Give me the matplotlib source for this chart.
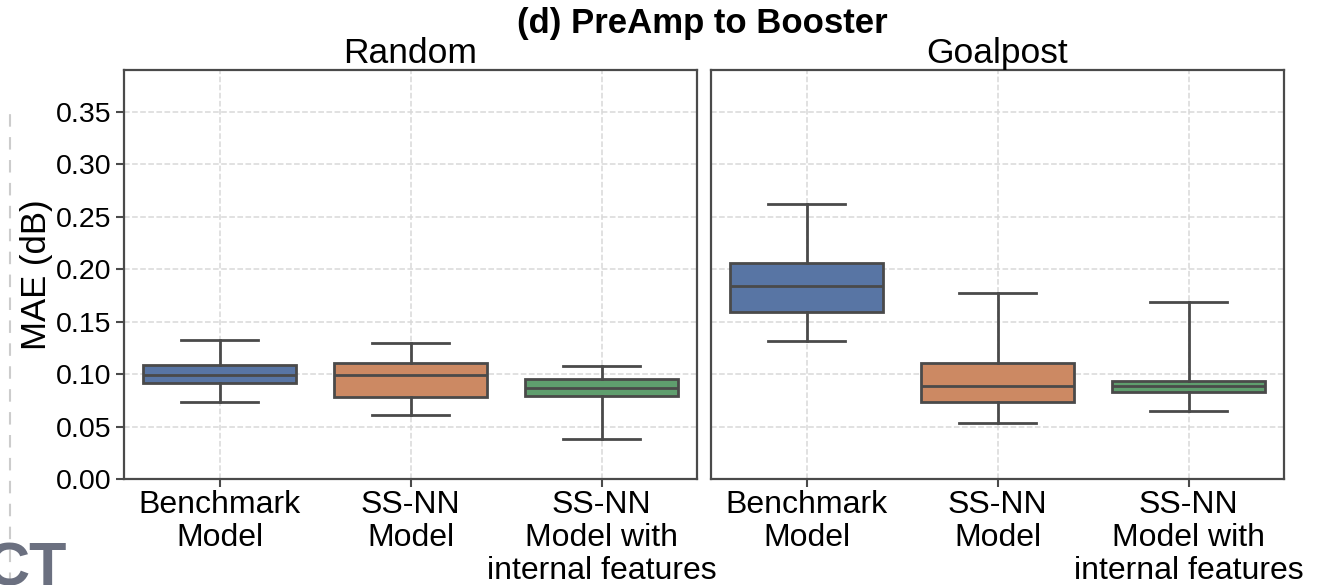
import matplotlib
matplotlib.use("Agg")
import matplotlib.pyplot as plt
from matplotlib.lines import Line2D

# box statistics (MAE in dB)
categories = ["Benchmark\nModel", "SS-NN\nModel", "SS-NN\nModel with\ninternal features"]
panels = ["Random", "Goalpost"]

random_whislo = [0.0737, 0.0613, 0.0380]
random_q1 = [0.0913, 0.0785, 0.0795]
random_med = [0.0992, 0.0995, 0.0868]
random_q3 = [0.1087, 0.1110, 0.0954]
random_whishi = [0.1326, 0.1297, 0.1080]

goal_whislo = [0.1313, 0.0537, 0.0648]
goal_q1 = [0.1590, 0.0731, 0.0830]
goal_med = [0.1840, 0.0887, 0.0887]
goal_q3 = [0.2063, 0.1103, 0.0938]
goal_whishi = [0.2620, 0.1771, 0.1688]

colors = ["#5875A4", "#CC8963", "#5F9E6E"]
line_col = "#4a4a4a"

plt.rcParams["font.family"] = ["Liberation Sans", "DejaVu Sans"]


def make_stats(lo, q1, med, q3, hi):
    return [dict(whislo=a, q1=b, med=c, q3=d, whishi=e, fliers=[])
            for a, b, c, d, e in zip(lo, q1, med, q3, hi)]


fig = plt.figure(figsize=(13.19, 5.85), dpi=100)
W, H = 1319, 585
ax_l = fig.add_axes([124 / W, 1 - 479 / H, 573 / W, 409 / H])
ax_r = fig.add_axes([711 / W, 1 - 479 / H, 573 / W, 409 / H], sharey=ax_l)

panel_stats = [
    make_stats(random_whislo, random_q1, random_med, random_q3, random_whishi),
    make_stats(goal_whislo, goal_q1, goal_med, goal_q3, goal_whishi),
]

for ax, stats, name in zip([ax_l, ax_r], panel_stats, panels):
    ax.set_axisbelow(True)
    ax.grid(True, linestyle="--", color="#d9d9d9", linewidth=1.1)
    bp = ax.bxp(stats, positions=range(len(categories)), widths=0.8,
                patch_artist=True, showfliers=False,
                boxprops=dict(edgecolor=line_col, linewidth=2),
                medianprops=dict(color=line_col, linewidth=2),
                whiskerprops=dict(color=line_col, linewidth=2),
                capprops=dict(color=line_col, linewidth=2), capwidths=0.4)
    for patch, c in zip(bp["boxes"], colors):
        patch.set_facecolor(c)
    ax.set_xlim(-0.5, len(categories) - 0.5)
    ax.set_xticks(range(len(categories)))
    ax.set_xticklabels(categories, fontsize=23, linespacing=1.12)
    ax.tick_params(axis="x", length=6, width=1.5, color=line_col, pad=2)
    for s in ax.spines.values():
        s.set_color(line_col)
        s.set_linewidth(1.6)
    ax.set_title(name, fontsize=25.5, pad=4)

ax_l.set_ylim(0, 0.39)
ax_l.set_yticks([0.0, 0.05, 0.10, 0.15, 0.20, 0.25, 0.30, 0.35])
ax_l.set_yticklabels([f"{v:.2f}" for v in ax_l.get_yticks()], fontsize=20.5)
ax_l.tick_params(axis="y", length=6, width=1.5, color=line_col, pad=3)
ax_l.set_ylabel("MAE (dB)", fontsize=25, labelpad=2)
ax_r.tick_params(axis="y", left=False, labelleft=False)

fig.text(702 / W, 1 - 24 / H, "(d) PreAmp to Booster", ha="center", va="center",
         fontsize=25, fontweight="bold")

# cropped-in fragments from the neighbouring figure
fig.add_artist(Line2D([10 / W, 10 / W], [0, 1 - 108 / H], color="#cccccc",
                      linestyle=(0, (6, 5)), linewidth=1.5))
fig.text(-14 / W, -14 / H, "CT", ha="left", va="bottom", fontsize=44,
         fontweight="bold", color="#6b7080")

fig.savefig("out.png", dpi=100)
